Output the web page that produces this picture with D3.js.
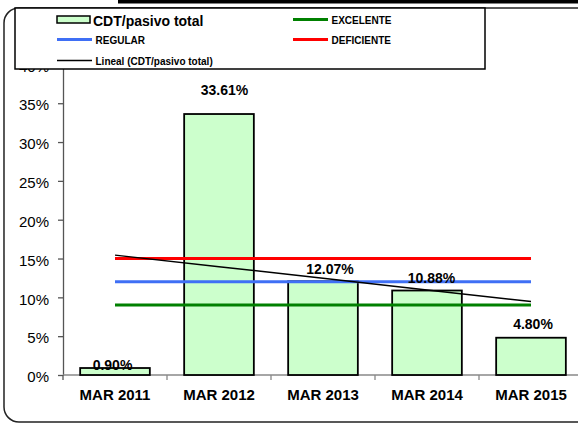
<!DOCTYPE html>
<html>
<head>
<meta charset="utf-8">
<script src="https://cdn.jsdelivr.net/npm/d3@7"></script>
<style>
  html, body { margin: 0; padding: 0; background: #fff; }
  svg { display: block; font-family: "Liberation Sans", Arial, sans-serif; }
</style>
</head>
<body>
<svg id="chart" width="578" height="425"></svg>
<script>
// ---- data ----
const categories = ["MAR 2011", "MAR 2012", "MAR 2013", "MAR 2014", "MAR 2015"];
const cdtValues = [0.90, 33.61, 12.07, 10.88, 4.80];
const seriesName = "CDT/pasivo total";
const thresholdNames = ["EXCELENTE", "REGULAR", "DEFICIENTE"];
const thresholdValues = [9, 12, 15];
const trendName = "Lineal (CDT/pasivo total)";
const yTickValues = [0, 5, 10, 15, 20, 25, 30, 35, 40];
const yTickLabels = ["0%", "5%", "10%", "15%", "20%", "25%", "30%", "35%", "40%"];

// ---- layout / style (not data) ----
const thresholdColors = { EXCELENTE: "#008000", REGULAR: "#3f6ff5", DEFICIENTE: "#ff0000" };
const labelDx = [-2.5, 5.5, 7, 4.5, 2];
const labelGap = [-2, 19, 7, 7.5, 9];

const svg = d3.select("#chart");

const x = d3.scaleBand().domain(categories).range([63, 583])
  .paddingInner(0.33).paddingOuter(0.165);
const y = d3.scaleLinear().domain([0, 40]).range([375, 64.4]);

// outer frame
svg.append("rect").attr("x", 4).attr("y", 8).attr("width", 640).attr("height", 414)
  .attr("rx", 15).attr("fill", "#fff").attr("stroke", "#222").attr("stroke-width", 1.5);
svg.append("rect").attr("x", 118).attr("y", 0).attr("width", 460).attr("height", 3.5)
  .attr("fill", "#000");

// y axis
const yAxis = d3.axisLeft(y).tickValues(yTickValues)
  .tickFormat((d, i) => yTickLabels[i]).tickSize(5).tickSizeOuter(0).tickPadding(9);
const gy = svg.append("g").attr("transform", "translate(63,0)").call(yAxis);
gy.select(".domain").attr("stroke", "#555").attr("stroke-width", 1.3);
gy.selectAll(".tick line").attr("stroke", "#555").attr("stroke-width", 1.3);
gy.selectAll(".tick text").attr("font-size", 15).attr("fill", "#000")
  .attr("font-family", "'Liberation Sans', Arial, sans-serif").attr("dy", "0.45em");

// x axis
const gx = svg.append("g").attr("transform", "translate(0,375)");
gx.append("line").attr("x1", 63).attr("x2", 583).attr("y1", 0).attr("y2", 0)
  .attr("stroke", "#888").attr("stroke-width", 1.5);
const boundaries = categories.map(c => x(c) - x.step() * x.paddingInner() / 2 - (categories.indexOf(c) === 0 ? x.step() * (x.paddingOuter() - x.paddingInner() / 2) : 0));
gx.selectAll("line.tk").data(categories.slice(1)).join("line").attr("class", "tk")
  .attr("x1", d => x(d) - (x.step() - x.bandwidth()) / 2)
  .attr("x2", d => x(d) - (x.step() - x.bandwidth()) / 2)
  .attr("y1", 0).attr("y2", 5).attr("stroke", "#888").attr("stroke-width", 1.3);
gx.append("line").attr("x1", 63).attr("x2", 63).attr("y1", 0).attr("y2", 5)
  .attr("stroke", "#555").attr("stroke-width", 1.3);
gx.selectAll("text").data(categories).join("text")
  .attr("x", d => x(d) + x.bandwidth() / 2).attr("y", 25)
  .attr("text-anchor", "middle").attr("font-size", 15).attr("font-weight", "bold")
  .text(d => d);

// bars
svg.append("g").selectAll("rect").data(cdtValues).join("rect")
  .attr("x", (d, i) => x(categories[i]))
  .attr("y", d => y(d))
  .attr("width", x.bandwidth())
  .attr("height", d => y(0) - y(d))
  .attr("fill", "#ccffcc").attr("stroke", "#000").attr("stroke-width", 1.8);

// threshold lines
const cx = c => x(c) + x.bandwidth() / 2;
const firstC = cx(categories[0]), lastC = cx(categories[categories.length - 1]);
svg.append("g").selectAll("line").data(thresholdNames).join("line")
  .attr("x1", firstC).attr("x2", lastC)
  .attr("y1", (d, i) => y(thresholdValues[i])).attr("y2", (d, i) => y(thresholdValues[i]))
  .attr("stroke", d => thresholdColors[d]).attr("stroke-width", 3);

// linear trend line (least squares over the bars)
const n = cdtValues.length;
const xs = d3.range(1, n + 1);
const mx = d3.mean(xs), my = d3.mean(cdtValues);
const slope = d3.sum(xs.map((v, i) => (v - mx) * (cdtValues[i] - my))) / d3.sum(xs.map(v => (v - mx) ** 2));
const icpt = my - slope * mx;
const trendPts = categories.map((c, i) => [cx(c), y(icpt + slope * xs[i])]);
svg.append("path").attr("d", d3.line()(trendPts))
  .attr("fill", "none").attr("stroke", "#000").attr("stroke-width", 1.5);

// value labels
svg.append("g").selectAll("text").data(cdtValues).join("text")
  .attr("x", (d, i) => cx(categories[i]) + labelDx[i])
  .attr("y", (d, i) => y(d) - labelGap[i])
  .attr("text-anchor", "middle").attr("font-size", 14).attr("font-weight", "bold")
  .text(d => d.toFixed(2) + "%");

// legend
const lg = svg.append("g");
lg.append("rect").attr("x", 15).attr("y", 8).attr("width", 470).attr("height", 61)
  .attr("fill", "#fff").attr("stroke", "#000").attr("stroke-width", 1.5);
lg.append("rect").attr("x", 57).attr("y", 16).attr("width", 33).attr("height", 7)
  .attr("fill", "#ccffcc").attr("stroke", "#000").attr("stroke-width", 1.5);
lg.append("text").attr("x", 93).attr("y", 25.5).attr("font-size", 14).attr("font-weight", "bold")
  .text(seriesName);
const legItems = [
  { name: thresholdNames[0], color: thresholdColors.EXCELENTE, x: 293, y: 19.5, w: 3 },
  { name: thresholdNames[1], color: thresholdColors.REGULAR, x: 57, y: 39.5, w: 3 },
  { name: thresholdNames[2], color: thresholdColors.DEFICIENTE, x: 293, y: 39.5, w: 3 },
  { name: trendName, color: "#000", x: 57, y: 60.5, w: 1.5 }
];
legItems.forEach(it => {
  lg.append("line").attr("x1", it.x).attr("x2", it.x + 35).attr("y1", it.y).attr("y2", it.y)
    .attr("stroke", it.color).attr("stroke-width", it.w);
  lg.append("text").attr("x", it.x + 38.5).attr("y", it.y + 4)
    .attr("font-size", 10).attr("font-weight", "bold").text(it.name);
});
</script>
</body>
</html>
